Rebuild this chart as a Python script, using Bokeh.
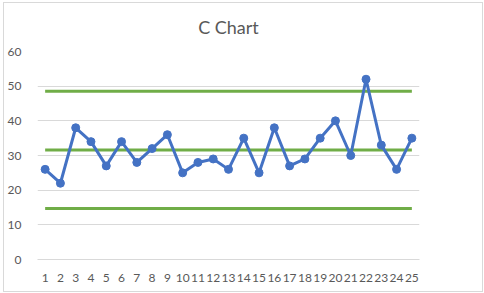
from bokeh.plotting import figure
from bokeh.embed import file_html
from bokeh.resources import INLINE
from bokeh.models import ColumnDataSource, FixedTicker, Range1d

samples = list(range(1, 26))
counts = [26, 22, 38, 34, 27, 34, 28, 32, 36, 25, 28, 29, 26, 35, 25,
          38, 27, 29, 35, 40, 30, 52, 33, 26, 35]
center_line = 31.6
upper_limit = 48.5
lower_limit = 14.7
y_ticks = [0, 10, 20, 30, 40, 50, 60]

src = ColumnDataSource(dict(x=samples, c=counts))

FONT = "Lato"
GRAY = "#595959"

p = figure(width=478, height=288, output_backend="svg", toolbar_location=None,
           x_range=Range1d(0.5, 25.5), y_range=Range1d(0, 60),
           min_border_left=26, min_border_right=65, min_border_top=48,
           min_border_bottom=34,
           styles={"margin": "2px 0 0 3px", "border": "1px solid #D9D9D9",
                   "box-sizing": "content-box"})

p.title.text = "C Chart"
p.title.align = "center"
p.title.vertical_align = "top"
p.title.text_font = FONT
p.title.text_font_size = "18px"
p.title.text_font_style = "normal"
p.title.text_color = GRAY
p.title.offset = 0
p.title.standoff = 23

p.outline_line_color = None
p.xgrid.grid_line_color = None
p.ygrid.grid_line_color = "#D9D9D9"
p.ygrid.grid_line_width = 1

p.yaxis.ticker = FixedTicker(ticks=y_ticks)
p.xaxis.ticker = FixedTicker(ticks=samples)
for ax in (p.xaxis[0], p.yaxis[0]):
    ax.major_tick_line_color = None
    ax.minor_tick_line_color = None
    ax.major_label_text_font = FONT
    ax.major_label_text_font_size = "12px"
    ax.major_label_text_color = GRAY
p.yaxis.axis_line_color = None
p.xaxis.axis_line_color = "#D9D9D9"
p.yaxis.major_label_standoff = 10
p.xaxis.major_label_standoff = 8

GREEN = "#70AD47"
BLUE = "#4472C4"
x0, x1 = samples[0], samples[-1]
for lvl in (upper_limit, center_line, lower_limit):
    p.line([x0, x1], [lvl, lvl], line_color=GREEN, line_width=3)

p.line("x", "c", source=src, line_color=BLUE, line_width=3)
p.scatter("x", "c", source=src, size=8, fill_color=BLUE, line_color=BLUE)

open("out.html", "w").write(file_html(p, INLINE))
